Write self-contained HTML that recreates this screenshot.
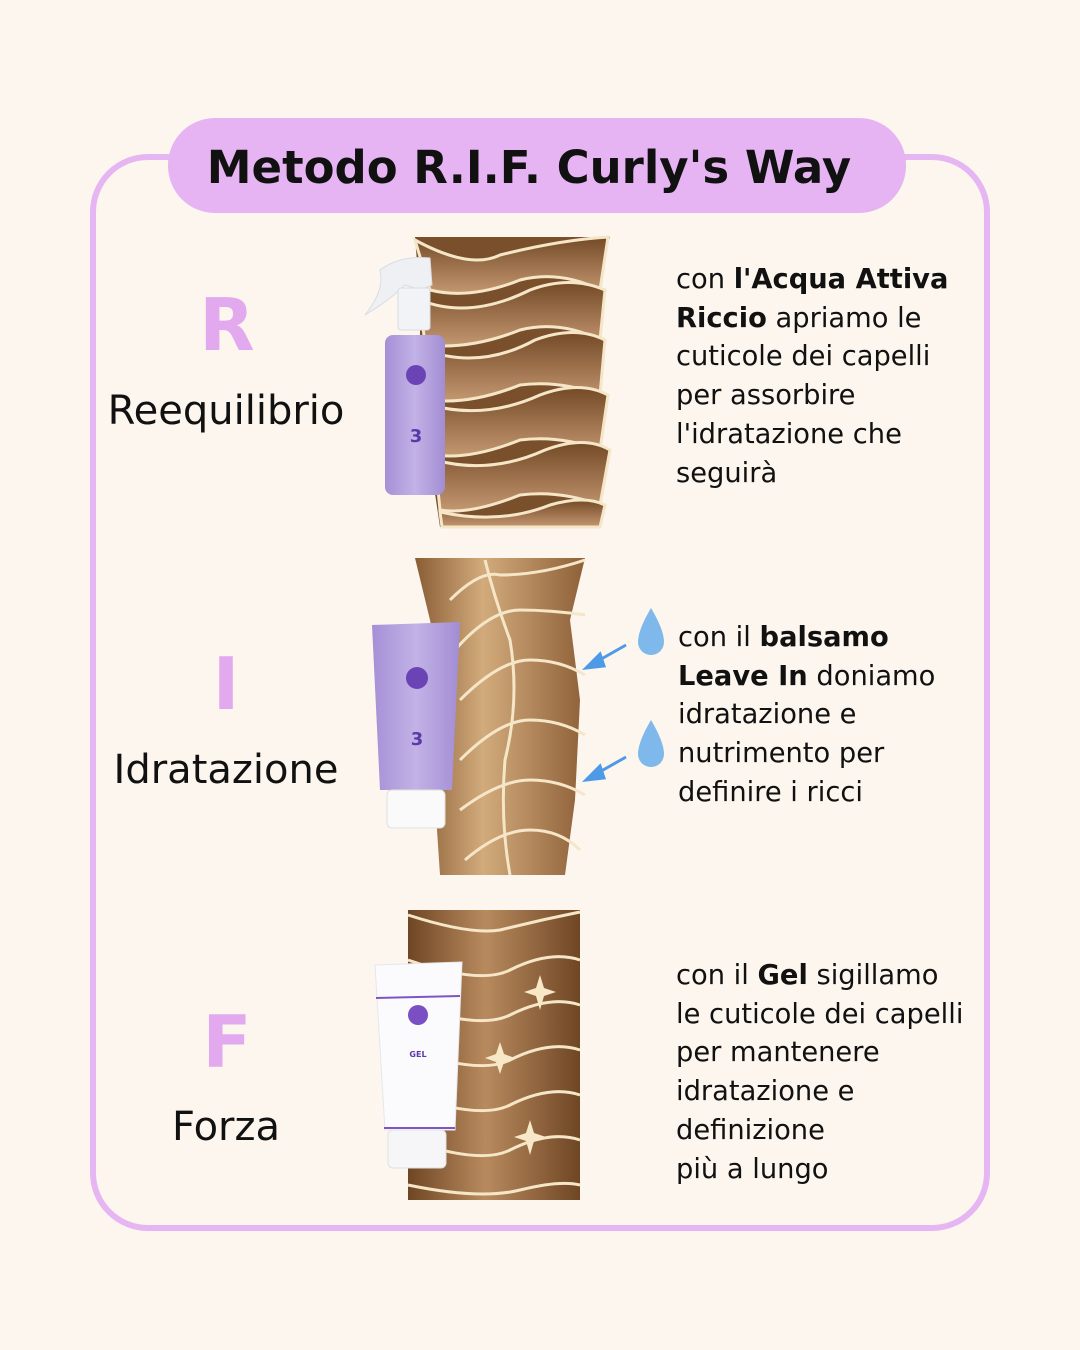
<!DOCTYPE html>
<html><head><meta charset="utf-8"><style>
html,body{margin:0;padding:0}
body{width:1080px;height:1350px;background:#fcf6ef;position:relative;overflow:hidden;font-family:"DejaVu Sans",sans-serif;color:#111}
.t{position:absolute;font-size:27.3px;line-height:38.7px;white-space:nowrap}
.lab{position:absolute;width:300px;text-align:center;font-size:40px}
.big{position:absolute;width:100px;text-align:center;font-size:72px;font-weight:bold;color:#e2a9ef}
</style></head><body>
<svg width="1080" height="1350" style="position:absolute;left:0;top:0">
<defs>
<linearGradient id="h" x1="0" x2="1"><stop offset="0" stop-color="#6f4624"/><stop offset="0.45" stop-color="#b88a5e"/><stop offset="1" stop-color="#6f4624"/></linearGradient>
<linearGradient id="s" x1="0" y1="0" x2="0" y2="1"><stop offset="0" stop-color="#744a27"/><stop offset="1" stop-color="#c39770"/></linearGradient>
<linearGradient id="h2" x1="0" x2="1"><stop offset="0" stop-color="#8a5d35"/><stop offset="0.4" stop-color="#d2ab7c"/><stop offset="1" stop-color="#8e6038"/></linearGradient>
<linearGradient id="b" x1="0" x2="1"><stop offset="0" stop-color="#a590d6"/><stop offset="0.5" stop-color="#c2b2e6"/><stop offset="1" stop-color="#a28dd3"/></linearGradient>
</defs>
<rect x="93" y="157" width="894" height="1071" rx="55" fill="none" stroke="#e6b6f2" stroke-width="6"/>
<rect x="168" y="118" width="738" height="95" rx="47" fill="#e6b4f3"/>
<text x="529" y="183" text-anchor="middle" font-family="DejaVu Sans" font-weight="bold" font-size="45" fill="#111">Metodo R.I.F. Curly's Way</text>
<path d="M415 237 L610 237 L590 290 L600 380 L595 460 L600 527 L440 527 L430 460 L420 380 L420 300 Z" fill="#7a4f2b"/>
<g stroke="#f5e6c8" stroke-width="3" fill="url(#s)">
<path d="M415 240 Q470 270 500 255 Q560 240 608 237 L600 290 Q560 270 520 280 Q470 300 430 290Z"/>
<path d="M420 300 Q470 320 530 290 Q570 275 605 290 L600 340 Q560 320 520 330 Q470 350 425 345Z"/>
<path d="M425 350 Q480 370 535 340 Q575 325 605 340 L600 395 Q560 380 520 385 Q470 405 430 400Z"/>
<path d="M430 405 Q485 420 540 395 Q580 380 608 395 L600 450 Q560 435 520 440 Q470 460 435 455Z"/>
<path d="M435 460 Q490 475 545 450 Q585 435 610 450 L600 505 Q560 490 520 495 Q470 515 440 510Z"/>
<path d="M440 512 Q500 525 550 505 Q585 495 605 505 L600 527 L442 527Z"/>
</g>
<path d="M415 558 L585 558 L570 620 L580 700 L575 800 L565 875 L440 875 L435 800 L445 700 L430 620 Z" fill="url(#h2)"/>
<g stroke="#f5e6c8" stroke-width="3" fill="none">
<path d="M450 600 Q480 570 500 575 Q540 575 585 560"/>
<path d="M455 650 Q490 610 520 610 Q550 610 585 615"/>
<path d="M460 700 Q500 660 530 660 Q560 660 585 675"/>
<path d="M460 760 Q500 720 530 720 Q560 720 585 735"/>
<path d="M460 810 Q500 780 530 780 Q560 780 585 795"/>
<path d="M465 860 Q500 830 530 830 Q560 830 580 850"/>
<path d="M485 560 Q495 600 510 640 Q520 700 505 760 Q500 820 510 875"/>
</g>
<rect x="408" y="910" width="172" height="290" fill="url(#h)"/>
<g stroke="#f5e6c8" stroke-width="3" fill="none">
<path d="M408 915 Q470 935 500 930 Q540 920 580 912"/>
<path d="M408 960 Q480 985 510 970 Q550 950 580 960"/>
<path d="M408 1005 Q480 1030 510 1015 Q550 995 580 1005"/>
<path d="M408 1050 Q480 1075 510 1060 Q550 1040 580 1050"/>
<path d="M408 1095 Q480 1120 510 1105 Q550 1085 580 1095"/>
<path d="M408 1140 Q480 1165 510 1150 Q550 1130 580 1140"/>
<path d="M408 1185 Q480 1200 520 1190 Q560 1180 580 1185"/>
</g>
<g fill="#f7e8c8">
<path d="M540 975 L544 988 L556 992 L544 996 L540 1010 L536 996 L524 992 L536 988Z"/>
<path d="M500 1042 L504 1054 L515 1058 L504 1062 L500 1074 L496 1062 L485 1058 L496 1054Z"/>
<path d="M530 1120 L534 1133 L546 1137 L534 1141 L530 1155 L526 1141 L514 1137 L526 1133Z"/>
</g>
<path d="M380 270 Q400 255 430 258 L432 285 L420 290 L405 285 Q390 300 365 315 Q385 290 380 270Z" fill="#eef0f4" stroke="#d8dce4"/>
<rect x="398" y="288" width="32" height="42" rx="3" fill="#f2f3f6" stroke="#d8dce4"/>
<rect x="385" y="335" width="60" height="160" rx="8" fill="url(#b)"/>
<circle cx="416" cy="375" r="10" fill="#6a44b5"/>
<text x="416" y="442" text-anchor="middle" font-size="18" font-weight="bold" fill="#5a3aa8">3</text>
<path d="M372 625 L460 622 L452 790 L380 790 Z" fill="url(#b)"/>
<rect x="387" y="790" width="58" height="38" rx="5" fill="#fafafa" stroke="#e0e0e0"/>
<circle cx="417" cy="678" r="11" fill="#6a44b5"/>
<text x="417" y="745" text-anchor="middle" font-size="18" font-weight="bold" fill="#5a3aa8">3</text>
<path d="M375 965 L462 962 L455 1130 L385 1130 Z" fill="#fbfbfd" stroke="#e6e6ee"/>
<line x1="376" y1="998" x2="460" y2="996" stroke="#7d55c7" stroke-width="2"/>
<line x1="384" y1="1128" x2="455" y2="1128" stroke="#7d55c7" stroke-width="2"/>
<rect x="388" y="1130" width="58" height="38" rx="5" fill="#f6f6f8" stroke="#e0e0e0"/>
<circle cx="418" cy="1015" r="10" fill="#7b4fc4"/>
<text x="418" y="1057" text-anchor="middle" font-size="8" font-weight="bold" fill="#5a3aa8">GEL</text>
<g fill="#7fb8ea">
<path d="M651 608 Q664 630 664 642 A13 13 0 0 1 638 642 Q638 630 651 608Z"/>
<path d="M651 720 Q664 742 664 754 A13 13 0 0 1 638 754 Q638 742 651 720Z"/>
</g>
<g stroke="#4f9ae6" stroke-width="3" fill="#4f9ae6">
<line x1="626" y1="645" x2="596" y2="662"/><path d="M586 668 L600 654 L604 666Z"/>
<line x1="626" y1="757" x2="596" y2="774"/><path d="M586 780 L600 766 L604 778Z"/>
</g>
</svg>
<div class="big" style="left:177px;top:283px">R</div>
<div class="lab" style="left:76px;top:388px">Reequilibrio</div>
<div class="big" style="left:176px;top:642px">I</div>
<div class="lab" style="left:76px;top:747px">Idratazione</div>
<div class="big" style="left:177px;top:1000px">F</div>
<div class="lab" style="left:76px;top:1104px">Forza</div>
<div class="t" style="left:676px;top:261px">con <b>l'Acqua Attiva<br>Riccio</b> apriamo le<br>cuticole dei capelli<br>per assorbire<br>l'idratazione che<br>seguirà</div>
<div class="t" style="left:678px;top:619px">con il <b>balsamo<br>Leave In</b> doniamo<br>idratazione e<br>nutrimento per<br>definire i ricci</div>
<div class="t" style="left:676px;top:957px">con il <b>Gel</b> sigillamo<br>le cuticole dei capelli<br>per mantenere<br>idratazione e<br>definizione<br>più a lungo</div>
</body></html>
